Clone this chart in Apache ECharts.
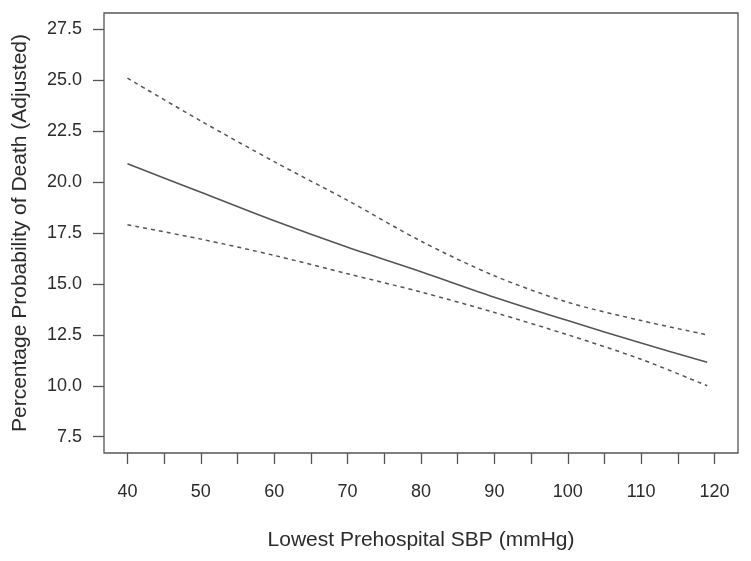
<!DOCTYPE html>
<html>
<head>
<meta charset="utf-8">
<script src="https://cdn.jsdelivr.net/npm/echarts@6/dist/echarts.min.js"></script>
<style>html,body{margin:0;padding:0;background:#fff;}#c{width:751px;height:561px;}</style>
</head>
<body>
<div id="c"></div>
<script>
const sbp = [40, 50, 60, 70, 80, 90, 100, 110, 119];
const estimate = [20.9, 19.5, 18.1, 16.8, 15.6, 14.35, 13.2, 12.1, 11.15];
const upperCI = [25.1, 23.0, 21.0, 19.1, 17.1, 15.4, 14.1, 13.2, 12.5];
const lowerCI = [17.9, 17.2, 16.4, 15.5, 14.6, 13.6, 12.5, 11.3, 10.0];
const xTicks = [40, 45, 50, 55, 60, 65, 70, 75, 80, 85, 90, 95, 100, 105, 110, 115, 120];
const xLabels = [40, 50, 60, 70, 80, 90, 100, 110, 120];
const yTicks = [7.5, 10, 12.5, 15, 17.5, 20, 22.5, 25, 27.5];

const pair = ys => sbp.map((x, i) => [x, ys[i]]);
const font = '"Liberation Sans", Arial, sans-serif';
const lineCol = '#555';
const txtCol = '#2b2b2b';

const chart = echarts.init(document.getElementById('c'), null, {renderer: 'canvas'});
chart.setOption({
  animation: false,
  backgroundColor: '#fff',
  grid: {left: 104, right: 13, top: 13, bottom: 108, show: true, borderColor: lineCol, borderWidth: 1.3, backgroundColor: 'transparent'},
  xAxis: {
    type: 'value', min: 36.8, max: 123.2,
    name: 'Lowest Prehospital SBP (mmHg)', nameLocation: 'middle', nameGap: 77,
    nameTextStyle: {fontFamily: font, fontSize: 21, color: txtCol},
    axisLine: {show: false, onZero: false},
    axisTick: {show: true, customValues: xTicks, length: 11, lineStyle: {color: lineCol, width: 1.3}},
    axisLabel: {customValues: xLabels, margin: 30, fontFamily: font, fontSize: 18, color: txtCol},
    splitLine: {show: false}
  },
  yAxis: {
    type: 'value', min: 6.7, max: 28.3,
    name: 'Percentage Probability of Death (Adjusted)', nameLocation: 'middle', nameGap: 73,
    nameTextStyle: {fontFamily: font, fontSize: 21, color: txtCol},
    axisLine: {show: false, onZero: false},
    axisTick: {show: true, customValues: yTicks, length: 11, lineStyle: {color: lineCol, width: 1.3}},
    axisLabel: {customValues: yTicks, margin: 22, fontFamily: font, fontSize: 18, color: txtCol, formatter: v => v.toFixed(1)},
    splitLine: {show: false}
  },
  series: [
    {type: 'line', data: pair(estimate), smooth: 0.3, symbol: 'none', lineStyle: {color: lineCol, width: 1.6}},
    {type: 'line', data: pair(upperCI), smooth: 0.3, symbol: 'none', lineStyle: {color: lineCol, width: 1.5, type: [4, 4]}},
    {type: 'line', data: pair(lowerCI), smooth: 0.3, symbol: 'none', lineStyle: {color: lineCol, width: 1.5, type: [4, 4]}}
  ]
});
</script>
</body>
</html>
